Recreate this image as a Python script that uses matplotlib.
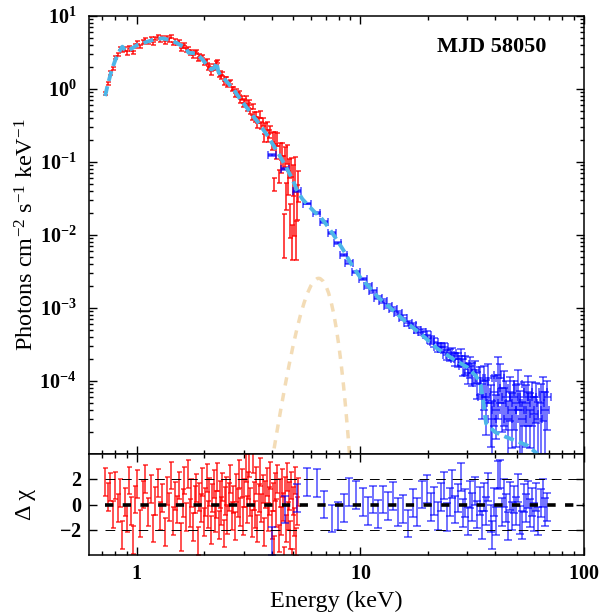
import numpy as np
import matplotlib
matplotlib.use('Agg')
import matplotlib.pyplot as plt
from matplotlib.ticker import FixedLocator, FuncFormatter, LogLocator, NullFormatter

plt.rcParams['font.family'] = ['Liberation Serif', 'DejaVu Serif']
plt.rcParams['mathtext.fontset'] = 'custom'
plt.rcParams['mathtext.rm'] = 'Liberation Serif'
plt.rcParams['mathtext.it'] = 'Liberation Serif:italic'
plt.rcParams['mathtext.bf'] = 'Liberation Serif:bold'

# total model (cyan)
mod_E = [0.72, 0.74, 0.77, 0.80, 0.83, 0.86, 0.88, 0.90, 0.95, 1.0,
         1.1, 1.2, 1.3, 1.4, 1.5, 1.6, 1.66, 1.70, 1.78, 1.85,
         1.95, 2.05, 2.15, 2.22, 2.27, 2.31, 2.36, 2.5, 2.7, 2.9,
         3.2, 3.5, 3.8, 4.1, 4.4, 4.7, 5.0, 5.2, 5.5, 5.8,
         6.2, 6.6, 7.0, 7.5, 8.0, 8.5, 9.0, 10.0, 11.0, 12.0,
         14.0, 16.0, 18.5, 22.0, 26.0, 30.0, 33.0, 34.5, 35.5, 36.5,
         40.0, 45.0, 50.0, 56.0, 62.0]
mod_F = [0.80, 1.15, 1.8, 2.5, 3.2, 3.8, 3.5, 3.3, 3.6, 4.0,
         4.4, 4.8, 4.95, 4.7, 4.3, 3.85, 3.6, 3.15, 3.1, 3.05,
         2.6, 2.15, 1.85, 1.95, 2.35, 1.75, 1.55, 1.3, 1.0, 0.72,
         0.49, 0.34, 0.24, 0.165, 0.115, 0.08, 0.055, 0.041, 0.031, 0.026,
         0.021, 0.0178, 0.0142, 0.0105, 0.0078, 0.0058, 0.0042, 0.0026, 0.0019, 0.0014,
         0.00093, 0.00064, 0.00045, 0.00028, 0.0002, 0.000155, 0.000115, 0.00009, 0.00005, 0.000026,
         0.00002, 0.000017, 0.000015, 0.000013, 0.00001]

# gaussian line component (tan)
gau_E = [4.0, 4.2, 4.4, 4.6, 4.8, 5.0, 5.2, 5.4, 5.6, 5.8, 6.0, 6.2, 6.4, 6.5,
         6.6, 6.8, 7.0, 7.2, 7.4, 7.6, 7.8, 8.0, 8.2, 8.4, 8.6, 8.8, 9.0]
gau_F = [7.25e-6, 1.79e-5, 4.07e-5, 8.63e-5, 1.69e-4, 3.09e-4, 5.22e-4, 8.20e-4, 1.19e-3,
         1.61e-3, 2.02e-3, 2.34e-3, 2.53e-3, 2.55e-3, 2.53e-3, 2.34e-3, 2.02e-3, 1.61e-3,
         1.19e-3, 8.20e-4, 5.22e-4, 3.09e-4, 1.69e-4, 8.63e-5, 4.07e-5, 1.79e-5, 7.25e-6]

# soft X-ray data (red)
red_E = [0.72, 0.74, 0.76, 0.78, 0.80, 0.82, 0.84, 0.86, 0.88, 0.90, 0.92, 0.94, 0.96, 0.98,
         1.00, 1.03, 1.06, 1.09, 1.12, 1.15, 1.18, 1.21, 1.24, 1.27, 1.30, 1.33, 1.36, 1.39,
         1.42, 1.45, 1.48, 1.51, 1.54, 1.57, 1.60, 1.63, 1.66, 1.69, 1.72, 1.75, 1.78, 1.81,
         1.84, 1.87, 1.90, 1.93, 1.96, 1.99,
         2.02, 2.05, 2.08, 2.11, 2.14, 2.17, 2.20, 2.23, 2.26, 2.29, 2.32, 2.35, 2.38, 2.41,
         2.44, 2.47, 2.50,
         2.54, 2.58, 2.62, 2.66, 2.70, 2.74, 2.78, 2.82, 2.86, 2.90, 2.94, 2.98,
         3.02, 3.06, 3.10, 3.14, 3.18, 3.22, 3.26, 3.30, 3.34, 3.38, 3.42, 3.46, 3.50,
         3.55, 3.60, 3.65, 3.70, 3.75, 3.80, 3.85, 3.90, 3.95, 4.00,
         4.05, 4.10, 4.15, 4.20, 4.25, 4.30, 4.35, 4.40, 4.45, 4.50,
         4.55, 4.60, 4.65, 4.70, 4.75, 4.80, 4.85, 4.90, 4.95,
         5.00, 5.05, 5.10, 5.15, 5.20, 5.25]
red_F = [0.87, 1.18, 1.66, 1.92, 2.69, 2.96, 3.55, 3.34, 3.54, 3.12, 3.72, 3.46, 3.14, 3.88,
         4.32, 3.79, 4.42, 4.79, 4.37, 4.88, 4.25, 4.87, 5.26, 4.68, 5.07, 4.36, 5.06, 4.70,
         5.18, 4.21, 4.55, 4.17, 4.46, 3.48, 3.87, 4.05, 3.42, 3.64, 3.04, 3.24, 2.82, 3.14,
         3.25, 2.52, 2.88, 2.66, 2.78, 2.28,
         2.33, 2.42, 1.95, 2.07, 1.65, 1.91, 2.06, 1.91, 2.30, 2.38, 1.55, 1.68, 1.47, 1.60,
         1.22, 1.39, 1.39,
         1.15, 1.21, 1.24, 0.99, 1.02, 0.84, 0.95, 0.82, 0.88, 0.69, 0.76, 0.61,
         0.68, 0.74, 0.55, 0.60, 0.66, 0.50, 0.41, 0.58, 0.45, 0.38, 0.455, 0.32, 0.37,
         0.45, 0.32, 0.355, 0.217, 0.307, 0.316, 0.216, 0.243, 0.281, 0.166,
         0.218, 0.050, 0.218, 0.138, 0.21, 0.064, 0.153, 0.089, 0.150, 0.101,
         0.012, 0.122, 0.037, 0.133, 0.055, 0.085, 0.018, 0.088, 0.009,
         0.062, 0.024, 0.080, 0.010, 0.032, 0.052]
red_rel = [0.05, 0.05, 0.05, 0.05, 0.05, 0.05, 0.05, 0.05, 0.05, 0.05, 0.05, 0.05, 0.05, 0.05,
           0.05, 0.05, 0.05, 0.05, 0.05, 0.05, 0.05, 0.05, 0.05, 0.05, 0.05, 0.05, 0.05, 0.05,
           0.05, 0.05, 0.05, 0.05, 0.05, 0.05, 0.05, 0.05, 0.05, 0.05, 0.05, 0.05, 0.05, 0.05,
           0.05, 0.05, 0.05, 0.05, 0.05, 0.05,
           0.06, 0.06, 0.06, 0.06, 0.06, 0.06, 0.06, 0.06, 0.06, 0.06, 0.06, 0.06, 0.06, 0.06,
           0.06, 0.06, 0.06,
           0.06, 0.06, 0.06, 0.06, 0.06, 0.06, 0.06, 0.06, 0.06, 0.06, 0.06, 0.06,
           0.08, 0.08, 0.08, 0.08, 0.08, 0.08, 0.08, 0.08, 0.08, 0.08, 0.08, 0.08, 0.08,
           0.12, 0.12, 0.12, 0.12, 0.12, 0.12, 0.12, 0.12, 0.12, 0.12,
           0.2, 0.2, 0.2, 0.2, 0.2, 0.2, 0.2, 0.2, 0.2, 0.2,
           0.6, 0.3, 0.4, 0.3, 0.35, 0.3, 0.5, 0.3, 0.5,
           0.45, 0.6, 0.45, 0.55, 0.5, 0.45]
red_res = [1.8, 0.6, 1.4, -0.8, 1.5, -0.3, 0.9, -2.4, 0.2, -1.1, 1.9, -0.5, -2.8, 0.4,
           1.6, -1.5, 0.8, 2.0, -0.6, 1.2, -1.9, 0.3, 1.7, -0.9, 0.5, -2.2, 1.1, -0.2,
           2.3, -1.3, 0.7, -0.4, 1.5, -2.6, 0.1, 1.9, -1.0, 2.4, -0.7, 0.9, -1.8, 0.4,
           1.3, -2.9, 0.6, -0.3, 1.8, -1.4,
           0.2, 2.1, -0.8, 1.0, -2.0, 0.5, 1.6, -1.1, 0.0, 2.2, -1.6, 0.8, -0.5, 1.4,
           -2.3, 0.3, 1.1,
           -1.2, 0.6, 2.0, -0.9, 0.4, -1.7, 1.3, 0.1, 2.4, -0.6, 1.7, -1.3,
           0.9, 2.9, -0.4, 1.5, 3.3, 0.2, -1.5, 3.6, 0.7, -0.8, 1.9, -1.9, 0.5,
           2.6, -0.3, 1.2, -2.2, 0.8, 1.8, -1.0, 0.3, 2.3, -1.6,
           0.6, -3.6, 1.4, -0.7, 2.0, -2.7, 0.9, -1.3, 1.7, -0.2,
           -4.5, 1.1, -1.9, 2.2, -0.9, 0.7, -2.4, 1.5, -4.6,
           0.3, -1.4, 1.9, -3.0, -0.5, 1.0]

# hard X-ray data (blue)
blue_E = [4.02, 4.60, 5.20, 5.78, 6.36, 6.86, 7.47, 7.90, 8.40, 8.90,
          9.55, 10.3, 10.8, 11.4, 12.0, 12.6, 13.3, 14.0, 14.7, 15.5,
          16.3, 17.1, 18.0, 18.9, 19.8, 20.6, 21.4, 22.2, 23.0, 23.7,
          24.5, 25.2, 25.8, 26.6, 27.4, 28.1, 28.8, 29.5, 30.2, 31.0,
          31.7, 32.5, 33.3, 34.1, 35.0, 35.8, 36.6, 37.4, 38.2, 38.9,
          39.6, 40.3, 41.1, 42.0, 42.9, 43.8, 44.8, 45.8, 46.8, 47.8,
          48.8, 49.8, 50.8, 51.9, 53.0, 54.1, 55.2, 56.4, 57.6, 58.8,
          60.0, 61.3, 62.6, 64.0, 65.4, 66.9, 68.7]
blue_F = [0.125, 0.080, 0.040, 0.027, 0.0200, 0.0152, 0.0106, 0.0078, 0.0053, 0.0042,
          0.0031, 0.0025, 0.0020, 0.0017, 0.00138, 0.00125, 0.00108, 0.00097, 0.00085, 0.00074,
          0.00062, 0.00058, 0.00050, 0.00047, 0.00043, 0.00037, 0.00034, 0.00029, 0.00029, 0.00029,
          0.00023, 0.00023, 0.00024, 0.00020, 0.00020, 0.00022, 0.00016, 0.00017, 0.00013, 0.00016,
          0.00013, 0.00014, 0.000095, 0.00011, 0.00006, 0.00010, 0.00006, 0.00011, 0.00005, 0.00003,
          0.00007, 0.00004, 0.00012, 0.00011, 0.00005, 0.00008, 0.00006, 0.00003, 0.00007, 0.00004,
          0.00006, 0.00005, 0.00009, 0.00004, 0.00003, 0.00006, 0.00005, 0.00007, 0.00004, 0.00006,
          0.000035, 0.00006, 0.00003, 0.00005, 0.00007, 0.00004, 0.00006]
blue_rel = [0.03, 0.03, 0.03, 0.03, 0.03, 0.03, 0.03, 0.03, 0.03, 0.04,
            0.04, 0.04, 0.05, 0.05, 0.05, 0.06, 0.06, 0.07, 0.07, 0.08,
            0.08, 0.09, 0.10, 0.10, 0.11, 0.12, 0.13, 0.14, 0.15, 0.16,
            0.17, 0.18, 0.19, 0.20, 0.22, 0.24, 0.26, 0.28, 0.30, 0.32,
            0.34, 0.36, 0.40, 0.42, 0.50, 0.6, 0.7, 0.55, 0.75, 0.8,
            0.65, 0.6, 0.75, 0.55, 0.6, 0.7, 0.65, 0.8, 0.6, 0.7,
            0.65, 0.75, 0.55, 0.8, 0.7, 0.6, 0.75, 0.65, 0.7, 0.6,
            0.75, 0.55, 0.7, 0.8, 0.6, 0.75, 0.65]
blue_res = [-2.9, -0.4, 0.5, 1.8, 1.7, 0.0, -1.1, -0.9, -0.3, 1.0,
            0.75, 0.2, -0.5, 0.4, -0.75, 0.4, -0.1, 0.65, -0.6, -0.35,
            -1.5, 0.1, -0.6, 0.8, 1.2, -0.2, 0.3, -0.9, 0.6, 1.5,
            -1.0, 0.2, 1.6, -0.4, 0.5, 2.2, -0.7, 0.1, -1.3, 0.8,
            -0.2, 1.1, -0.8, 0.3, -1.6, 0.6, -0.5, 1.4, -1.1, -2.4,
            0.2, -1.3, 2.35, 2.4, -0.6, 0.9, -0.3, -1.7, 0.7, -0.9,
            0.4, -0.5, 1.3, -1.2, -1.6, 0.5, -0.3, 0.8, -0.7, 0.2,
            -1.0, 0.6, -1.3, 0.1, 0.9, -0.6, -0.2]

red_E = np.array(red_E)
red_F = np.array(red_F)
blue_E = np.array(blue_E)
blue_F = np.array(blue_F)

fig = plt.figure(figsize=(6.14, 6.16), dpi=100)
ax = fig.add_axes([0.145, 0.263, 0.806, 0.711])
axr = fig.add_axes([0.145, 0.099, 0.806, 0.164])

# main panel
ax.plot(gau_E, gau_F, color='#f3dcb6', lw=2.5, ls=(0, (2.4, 2.2)), zorder=1)
ax.errorbar(red_E, red_F, yerr=red_F * np.array(red_rel), fmt='none', ecolor='#ff0000',
            elinewidth=1.2, capsize=1.8, capthick=1.1, alpha=0.85, zorder=2)
ax.errorbar(blue_E, blue_F, xerr=blue_E * 0.04, yerr=blue_F * np.array(blue_rel), fmt='none',
            ecolor='#0000ff', elinewidth=1.1, capsize=3, capthick=1.1, alpha=0.7, zorder=2)
ax.plot(mod_E, mod_F, color='#4db6e8', lw=2.8, ls=(0, (2.6, 1.4)), zorder=3)

ax.set_xscale('log')
ax.set_yscale('log')
ax.set_xlim(0.61, 100)
ax.set_ylim(1e-5, 10)

def logfmt(v, pos):
    e = int(round(np.log10(v)))
    if e == -5:
        return ''
    return r'$\mathbf{10^{%d}}$' % e

ax.yaxis.set_major_locator(FixedLocator([1e-5, 1e-4, 1e-3, 1e-2, 1e-1, 1, 10]))
ax.yaxis.set_major_formatter(FuncFormatter(logfmt))
ax.yaxis.set_minor_locator(LogLocator(base=10, subs=np.arange(2, 10), numticks=20))
ax.yaxis.set_minor_formatter(NullFormatter())
ax.set_ylabel(r'Photons cm$^{-2}$ s$^{-1}$ keV$^{-1}$', fontsize=17.5)
ax.yaxis.set_label_coords(-0.103, 0.5)
ax.text(0.814, 0.929, 'MJD 58050', transform=ax.transAxes, fontsize=16,
        fontweight='bold', ha='center', va='center')

# residual panel
axr.errorbar(red_E, red_res, yerr=1.1, fmt='none', ecolor='#ff0000',
             elinewidth=1.2, capsize=1.8, capthick=1.1, alpha=0.8, zorder=2)
axr.errorbar(blue_E, blue_res, yerr=1.1, fmt='none', ecolor='#0000ff',
             elinewidth=1.1, capsize=3, capthick=1.1, alpha=0.7, zorder=2)
axr.axhline(0, xmin=0.0325, color='k', lw=2.6, ls=(0, (2.3, 2.6)), zorder=5)
for lev in (2, -2):
    axr.axhline(lev, xmin=0.0325, color='k', lw=0.7, ls=(0, (10, 7)), zorder=4)

axr.set_xscale('log')
axr.set_xlim(0.61, 100)
axr.set_ylim(-4, 4)
axr.yaxis.set_major_locator(FixedLocator([-2, 0, 2]))
axr.yaxis.set_major_formatter(FuncFormatter(lambda v, p: r'$\mathbf{%d}$' % int(round(v))))
axr.set_ylabel('Δ χ', fontsize=17.5)
axr.yaxis.set_label_coords(-0.107, 0.5)
axr.set_xlabel('Energy (keV)', fontsize=17.5, labelpad=5)

for a in (ax, axr):
    a.xaxis.set_major_locator(FixedLocator([1, 10, 100]))
    a.xaxis.set_minor_locator(LogLocator(base=10, subs=np.arange(2, 10), numticks=20))
    a.xaxis.set_minor_formatter(NullFormatter())
    a.tick_params(which='both', direction='in', top=True, right=True, width=1.0)
    a.tick_params(which='major', length=6, labelsize=14.5)
    a.tick_params(which='minor', length=3)
    for s in a.spines.values():
        s.set_linewidth(1.1)

axr.xaxis.set_major_formatter(FuncFormatter(lambda v, p: r'$\mathbf{%d}$' % int(round(v))))
axr.tick_params(axis='x', which='major', pad=7)
axr.tick_params(axis='y', which='major', pad=5)
ax.tick_params(axis='x', labelbottom=False)
ax.tick_params(axis='y', which='major', pad=9)

fig.savefig('out.png', dpi=100)
